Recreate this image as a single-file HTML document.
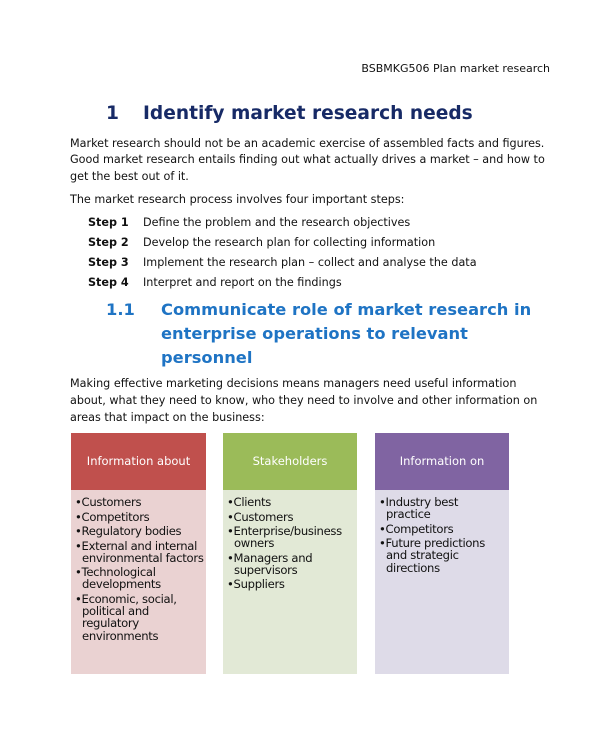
<!DOCTYPE html>
<html><head><style>
body{margin:0;width:600px;height:730px;background:#fff;position:relative;font-family:"DejaVu Sans","Liberation Sans",sans-serif;color:#111;overflow:hidden}
.t{position:absolute;white-space:nowrap;font-size:11.2px;line-height:14px}
.h1{position:absolute;font-size:18.6px;font-weight:bold;color:#172a66;white-space:nowrap}
.h2{position:absolute;font-size:16.3px;font-weight:bold;color:#1f74c4;white-space:nowrap;line-height:24px}
.b{font-weight:bold}
.hd{position:absolute;height:57px;color:#fff;font-size:11.5px;text-align:center;line-height:57px}
.bd{position:absolute;font-size:11.6px;line-height:12.2px;padding:6px 0 0 4px;box-sizing:border-box;letter-spacing:-0.3px;white-space:nowrap}
.bd div{padding-left:7px;text-indent:-7px;margin-bottom:2.3px}
</style></head><body>
<div class="t" style="right:50px;top:62px;font-size:11px">BSBMKG506 Plan market research</div>
<div class="h1" style="left:106px;top:103px">1</div>
<div class="h1" style="left:143px;top:103px">Identify market research needs</div>
<div class="t" style="left:70px;top:137px">Market research should not be an academic exercise of assembled facts and figures.</div>
<div class="t" style="left:70px;top:153px">Good market research entails finding out what actually drives a market – and how to</div>
<div class="t" style="left:70px;top:170px">get the best out of it.</div>
<div class="t" style="left:70px;top:193px">The market research process involves four important steps:</div>
<div class="t b" style="left:88px;top:216px">Step 1</div><div class="t" style="left:143px;top:216px">Define the problem and the research objectives</div>
<div class="t b" style="left:88px;top:236px">Step 2</div><div class="t" style="left:143px;top:236px">Develop the research plan for collecting information</div>
<div class="t b" style="left:88px;top:256px">Step 3</div><div class="t" style="left:143px;top:256px">Implement the research plan – collect and analyse the data</div>
<div class="t b" style="left:88px;top:276px">Step 4</div><div class="t" style="left:143px;top:276px">Interpret and report on the findings</div>
<div class="h2" style="left:106px;top:298px">1.1</div>
<div class="h2" style="left:161px;top:298px">Communicate role of market research in<br>enterprise operations to relevant<br>personnel</div>
<div class="t" style="left:70px;top:377px">Making effective marketing decisions means managers need useful information</div>
<div class="t" style="left:70px;top:394px">about, what they need to know, who they need to involve and other information on</div>
<div class="t" style="left:70px;top:411px">areas that impact on the business:</div>

<div class="hd" style="left:71px;top:433px;width:135px;background:#c0504d">Information about</div>
<div class="bd" style="left:71px;top:490px;width:135px;height:184px;background:#ead2d2;overflow:hidden">
<div>•Customers</div><div>•Competitors</div><div>•Regulatory bodies</div><div>•External and internal<br>environmental factors</div><div>•Technological<br>developments</div><div>•Economic, social,<br>political and<br>regulatory<br>environments</div></div>

<div class="hd" style="left:223px;top:433px;width:134px;background:#9bbb59">Stakeholders</div>
<div class="bd" style="left:223px;top:490px;width:134px;height:184px;background:#e2e9d6">
<div>•Clients</div><div>•Customers</div><div>•Enterprise/business<br>owners</div><div>•Managers and<br>supervisors</div><div>•Suppliers</div></div>

<div class="hd" style="left:375px;top:433px;width:134px;background:#8064a2">Information on</div>
<div class="bd" style="left:375px;top:490px;width:134px;height:184px;background:#dedbe8">
<div>•Industry best<br>practice</div><div>•Competitors</div><div>•Future predictions<br>and strategic<br>directions</div></div>
</body></html>
